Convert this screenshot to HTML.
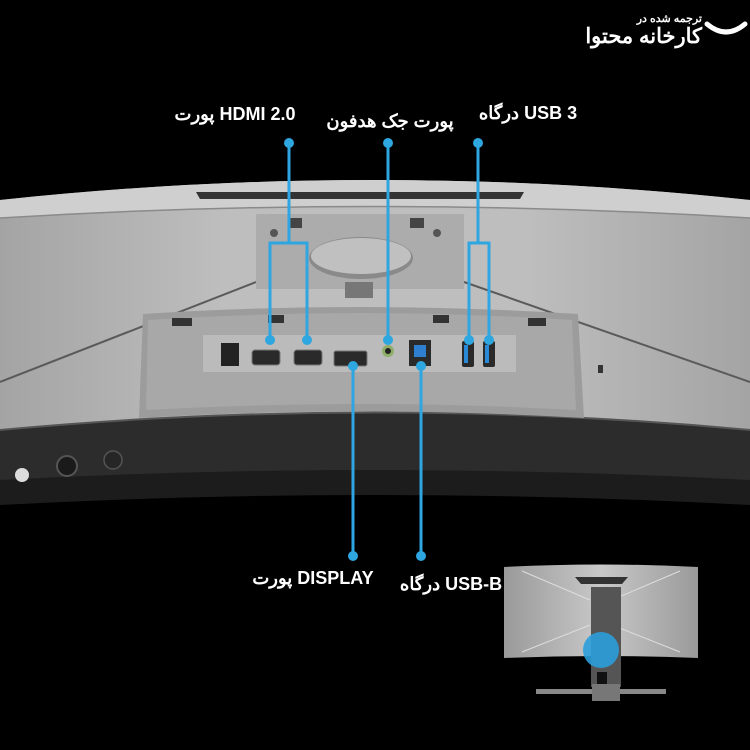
<!DOCTYPE html>
<html><head><meta charset="utf-8"><style>
html,body{margin:0;padding:0;background:#000;}
svg{display:block}
text{font-family:"Liberation Sans","Noto Sans CJK SC",sans-serif;fill:#fff;font-weight:bold}
</style></head><body>
<svg width="750" height="750" viewBox="0 0 750 750" xmlns="http://www.w3.org/2000/svg">
<defs>
<linearGradient id="side" x1="0" y1="0" x2="1" y2="0">
<stop offset="0" stop-color="#a4a4a4"/><stop offset="0.3" stop-color="#bebebe"/><stop offset="0.7" stop-color="#bebebe"/><stop offset="1" stop-color="#a4a4a4"/>
</linearGradient>
<linearGradient id="thumb" x1="0" y1="0" x2="1" y2="0">
<stop offset="0" stop-color="#9a9a9a"/><stop offset="0.5" stop-color="#c8c8c8"/><stop offset="1" stop-color="#9a9a9a"/>
</linearGradient>
</defs>
<rect width="750" height="750" fill="#000"/>
<path d="M0 200 Q375 160 750 200 L750 505 L0 505 Z" fill="url(#side)"/>
<path d="M0 200 Q375 160 750 200 L750 218 Q375 195 0 218 Z" fill="#cfcfcf"/>
<path d="M0 218 Q375 195 750 218" stroke="#8a8a8a" stroke-width="1.5" fill="none"/>
<path d="M256 282 L0 382" stroke="#5a5a5a" stroke-width="2"/>
<path d="M464 282 L750 382" stroke="#5a5a5a" stroke-width="2"/>
<path d="M196 192 L524 192 L520 199 L200 199 Z" fill="#333"/>
<rect x="256" y="214" width="208" height="75" fill="#acacac"/>
<rect x="288" y="218" width="14" height="10" fill="#444"/>
<rect x="410" y="218" width="14" height="10" fill="#444"/>
<circle cx="274" cy="233" r="4" fill="#555"/><circle cx="437" cy="233" r="4" fill="#555"/>
<ellipse cx="361" cy="258" rx="52" ry="21" fill="#8a8a8a"/>
<ellipse cx="361" cy="256" rx="50" ry="18" fill="#c0c0c0"/>
<rect x="345" y="282" width="28" height="16" fill="#777"/>
<path d="M0 430 Q375 395 750 430 L750 505 L0 505 Z" fill="#2c2c2c"/>
<path d="M0 430 Q375 395 750 430" stroke="#555" stroke-width="2" fill="none"/>
<path d="M0 480 Q375 460 750 480 L750 505 L0 505 Z" fill="#1c1c1c"/>
<path d="M0 505 Q375 485 750 505 L750 750 L0 750 Z" fill="#000"/>
<circle cx="22" cy="475" r="7" fill="#ddd"/>
<circle cx="67" cy="466" r="10" fill="#1a1a1a" stroke="#555" stroke-width="2"/>
<circle cx="113" cy="460" r="9" fill="#262626" stroke="#555" stroke-width="1.5"/>
<path d="M143 314 Q360 300 578 314 L584 418 Q360 405 139 418 Z" fill="#9c9c9c"/>
<path d="M148 320 Q360 306 572 320 L576 410 Q360 398 146 410 Z" fill="#a8a8a8"/>
<rect x="172" y="318" width="20" height="8" fill="#333"/><rect x="268" y="315" width="16" height="8" fill="#333"/>
<rect x="433" y="315" width="16" height="8" fill="#333"/><rect x="528" y="318" width="18" height="8" fill="#333"/>
<rect x="203" y="335" width="313" height="37" fill="#bbbbbb"/>
<rect x="221" y="343" width="18" height="23" fill="#222"/>
<rect x="252" y="350" width="28" height="15" rx="3" fill="#2a2a2a" stroke="#777"/>
<rect x="294" y="350" width="28" height="15" rx="3" fill="#2a2a2a" stroke="#777"/>
<rect x="334" y="351" width="33" height="15" rx="2" fill="#2a2a2a" stroke="#777"/>
<circle cx="388" cy="351" r="6" fill="#8fae6a"/><circle cx="388" cy="351" r="3" fill="#222"/>
<rect x="409" y="340" width="22" height="26" fill="#2a2a2a"/><rect x="414" y="345" width="12" height="12" fill="#2e7fd0"/>
<rect x="462" y="341" width="12" height="26" rx="2" fill="#2a2a2a"/><rect x="483" y="341" width="12" height="26" rx="2" fill="#2a2a2a"/>
<rect x="464" y="345" width="4" height="18" fill="#2a8ad8"/><rect x="485" y="345" width="4" height="18" fill="#2a8ad8"/>
<rect x="598" y="365" width="5" height="8" fill="#333"/>
<g stroke="#2ea6e0" stroke-width="3" fill="none">
<path d="M289 143 L289 243 M270 340 L270 243 L307 243 L307 340"/>
<path d="M388 143 L388 340"/>
<path d="M478 143 L478 243 M469 340 L469 243 L489 243 L489 340"/>
<path d="M353 366 L353 556"/>
<path d="M421 366 L421 556"/>
</g>
<g fill="#2ea6e0">
<circle cx="289" cy="143" r="5"/><circle cx="388" cy="143" r="5"/><circle cx="478" cy="143" r="5"/>
<circle cx="270" cy="340" r="5"/><circle cx="307" cy="340" r="5"/><circle cx="388" cy="340" r="5"/>
<circle cx="469" cy="340" r="5"/><circle cx="489" cy="340" r="5"/>
<circle cx="353" cy="366" r="5"/><circle cx="421" cy="366" r="5"/>
<circle cx="353" cy="556" r="5"/><circle cx="421" cy="556" r="5"/>
</g>
<text x="235" y="120" font-size="18" text-anchor="middle">پورت HDMI 2.0</text>
<text x="390" y="127" font-size="18" text-anchor="middle">پورت جک هدفون</text>
<text x="528" y="119" font-size="18" text-anchor="middle">درگاه USB 3</text>
<text x="313" y="584" font-size="18" text-anchor="middle">پورت DISPLAY</text>
<text x="451" y="590" font-size="18" text-anchor="middle">درگاه USB-B</text>
<text x="702" y="22" font-size="11" text-anchor="end" font-weight="normal">ترجمه شده در</text>
<text x="702" y="43" font-size="21" text-anchor="end" font-weight="normal">کارخانه محتوا</text>
<path d="M707 24 Q726 40 745 24" stroke="#fff" stroke-width="5" fill="none" stroke-linecap="round"/>
<path d="M504 567 Q601 562 698 567 L698 658 Q601 654 504 658 Z" fill="url(#thumb)"/>
<path d="M575 577 L628 577 L622 584 L581 584 Z" fill="#333"/>
<path d="M522 571 L590 600 M680 571 L612 600 M522 652 L590 625 M680 652 L612 625" stroke="#ddd" stroke-width="1"/>
<rect x="591" y="587" width="30" height="100" fill="#555"/>
<rect x="597" y="672" width="10" height="12" fill="#111"/>
<rect x="536" y="689" width="130" height="5" fill="#888"/>
<rect x="592" y="684" width="28" height="17" fill="#777"/>
<circle cx="601" cy="650" r="18" fill="#2b9fdb" opacity="0.9"/>
</svg>
</body></html>
